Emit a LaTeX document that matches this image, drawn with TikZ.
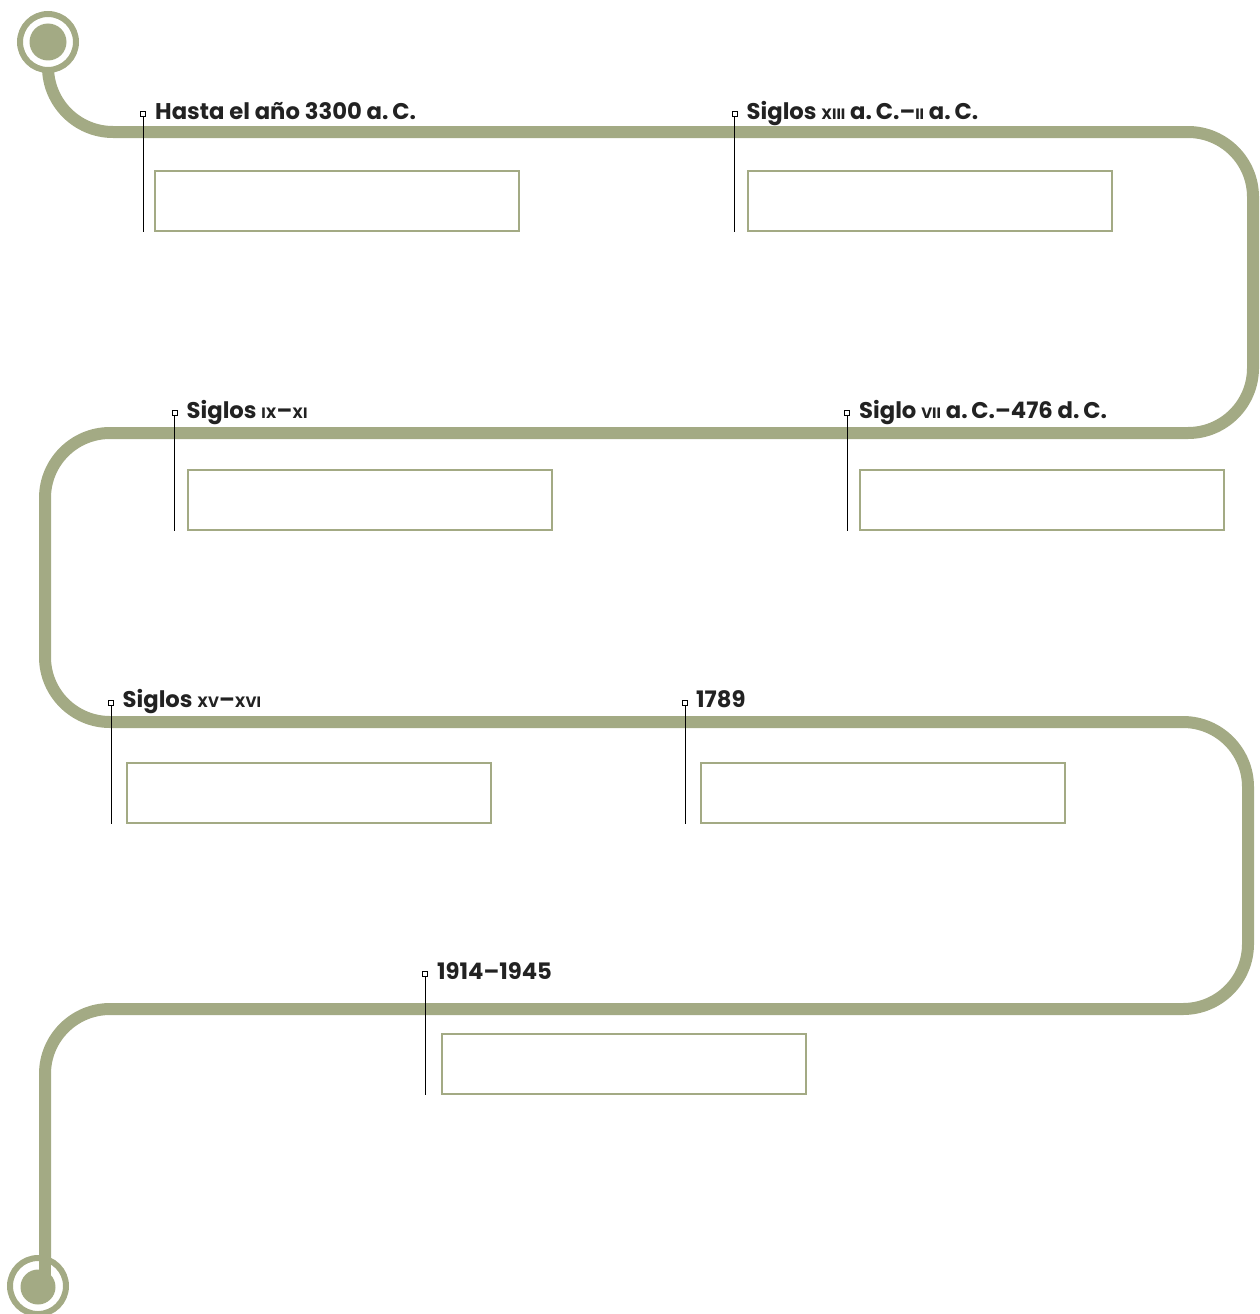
\documentclass[tikz,border=0pt]{standalone}
\usepackage{fontspec}
\setmainfont{Poppins}
\definecolor{trk}{RGB}{163,170,132}
\definecolor{ink}{RGB}{34,34,34}
\tikzset{
  track/.style={draw=trk, line width=12pt, rounded corners=65pt},
  databox/.style={draw=trk, line width=2pt, minimum width=364pt, minimum height=60pt, anchor=north west, inner sep=0pt},
  marker/.style={draw=black, fill=white, line width=0.8pt, minimum size=5pt, inner sep=0pt},
  lbl/.style={anchor=base west, inner sep=0pt, text=ink, font=\fontsize{22.7}{22.7}\selectfont\bfseries},
  tick/.style={draw=black, line width=0.9pt},
  ring/.style={draw=trk, line width=6pt, fill=white},
  dot/.style={fill=trk},
}
\newcommand{\rn}[1]{{\fontsize{15}{15}\selectfont #1}}
\begin{document}
\begin{tikzpicture}[x=1pt,y=-1pt]
\useasboundingbox (0,0) rectangle (1260,1314);
% track
\coordinate (t0) at (48,42);
\coordinate (t9) at (45,1284);
\draw[track] (t0) -- (48,132) -- (1253,132) -- (1253,433) -- (45,433) -- (45,722) -- (1248,722) -- (1248,1009) -- (45,1009) -- (45,1270);
% start circle
\node[ring, circle, minimum size=56pt, inner sep=0pt] (start) at (t0) {};
\node[dot, circle, minimum size=37pt, inner sep=0pt] (startdot) at (t0) {};
% end circle
\node[ring, circle, minimum size=56pt, inner sep=0pt] (end) at (38,1286) {};
\draw[draw=trk, line width=12pt] (45,1240) -- (t9);
\node[dot, circle, minimum size=35pt, inner sep=0pt] (enddot) at (38,1287) {};

% boxes
\node[databox] (b1) at (154,170) {};
\node[databox] (b2) at (747,170) {};
\node[databox] (b3) at (187,469) {};
\node[databox] (b4) at (859,469) {};
\node[databox] (b5) at (126,762) {};
\node[databox] (b6) at (700,762) {};
\node[databox] (b7) at (441,1033) {};

% markers, ticks, labels
\node[marker] (m1) at (143,113.5) {};
\coordinate (e1) at (143,232);
\draw[tick] (m1.south) -- (e1);
\node[lbl] (l1) at (155,119.5) {Hasta el año 3300 a.\,C.};

\node[marker] (m2) at (734.5,113.5) {};
\coordinate (e2) at (734.5,232);
\draw[tick] (m2.south) -- (e2);
\node[lbl] (l2) at (746.5,119.5) {Siglos \rn{XIII} a.\,C.–\rn{II} a.\,C.};

\node[marker] (m3) at (174.5,413) {};
\coordinate (e3) at (174.5,531);
\draw[tick] (m3.south) -- (e3);
\node[lbl] (l3) at (186.5,418.5) {Siglos \rn{IX}–\rn{XI}};

\node[marker] (m4) at (847,413) {};
\coordinate (e4) at (847,531);
\draw[tick] (m4.south) -- (e4);
\node[lbl] (l4) at (859,418.5) {Siglo \rn{VII} a.\,C.–476 d.\,C.};

\node[marker] (m5) at (111,702.5) {};
\coordinate (e5) at (111,824);
\draw[tick] (m5.south) -- (e5);
\node[lbl] (l5) at (122.5,707.5) {Siglos \rn{XV}–\rn{XVI}};

\node[marker] (m6) at (685,702.5) {};
\coordinate (e6) at (685,824);
\draw[tick] (m6.south) -- (e6);
\node[lbl] (l6) at (696,707.5) {1789};

\node[marker] (m7) at (425,974) {};
\coordinate (e7) at (425,1095);
\draw[tick] (m7.south) -- (e7);
\node[lbl] (l7) at (437,979) {1914–1945};
\end{tikzpicture}
\end{document}
